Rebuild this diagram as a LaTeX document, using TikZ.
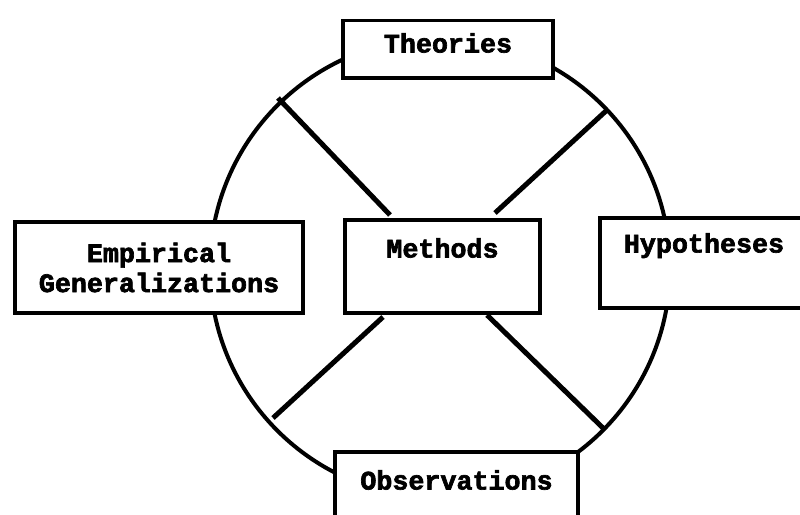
\documentclass[tikz,border=0pt]{standalone}
\usepackage{fontspec}
\newfontfamily\tw{Liberation Mono}[FakeBold=2.5]
\begin{document}
\begin{tikzpicture}[x=1pt,y=-1pt,
  box/.style={draw=black, fill=white, line width=3.5pt, inner sep=0pt,
    font=\tw\bfseries\fontsize{26.7}{30}\selectfont, align=center},
  ring/.style={draw=black, line width=4pt},
  spoke/.style={draw=black, line width=5pt}]
\useasboundingbox (0,0) rectangle (800,514);
% circle
\coordinate (o) at (440,268);
\draw[ring] (o) circle[radius=230];
% spokes
\coordinate (c1) at (278,98);
\coordinate (c2) at (607,110);
\coordinate (c3) at (273,418);
\coordinate (c4) at (603,428);
\coordinate (e1) at (390,215);
\coordinate (e2) at (495,213);
\coordinate (e3) at (383,317);
\coordinate (e4) at (487,315);
\draw[spoke] (c1) -- (e1);
\draw[spoke] (c2) -- (e2);
\draw[spoke] (c3) -- (e3);
\draw[spoke] (c4) -- (e4);
% boxes
\node[box, minimum width=210, text height=32, text depth=25.5, anchor=base] (t) at (448,52.5) {Theories};
\node[box, minimum width=288, minimum height=91] (g) at (159,267.5) {Empirical\\Generalizations};
\node[box, minimum width=195, text height=37.5, text depth=55.5, anchor=base] (m) at (442.5,257.5) {Methods};
\node[box, minimum width=208, text height=34.5, text depth=55.5, anchor=base] (h) at (704,252.5) {Hypotheses};
\node[box, minimum width=243, text height=37.5, text depth=40, anchor=base] (ob) at (456.5,489.5) {Observations};
\end{tikzpicture}
\end{document}
